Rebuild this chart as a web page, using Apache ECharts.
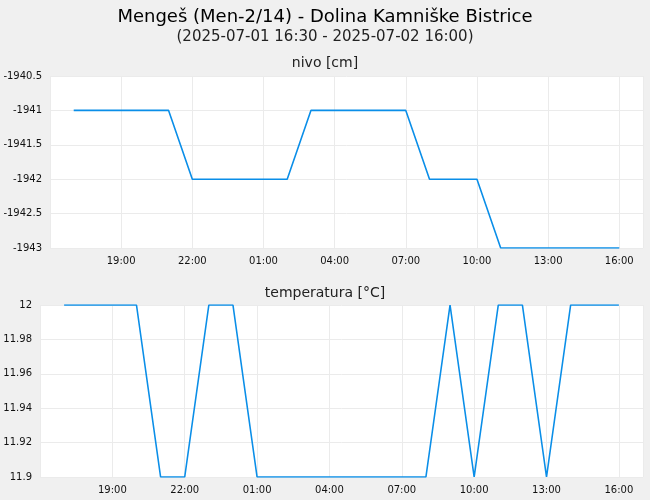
<!DOCTYPE html>
<html><head><meta charset="utf-8">
<script src="https://cdn.jsdelivr.net/npm/echarts@6/dist/echarts.min.js"></script>
<style>html,body{margin:0;padding:0;background:#f0f0f0}#c{width:650px;height:500px}</style>
</head><body><div id="c"></div>
<script>
// hours since 2025-07-01 16:00
const hours = [1,2,3,4,5,6,7,8,9,10,11,12,13,14,15,16,17,18,19,20,21,22,23,24];
const nivo = [-1941,-1941,-1941,-1941,-1941,-1942,-1942,-1942,-1942,-1942,-1941,-1941,-1941,-1941,-1941,-1942,-1942,-1942,-1943,-1943,-1943,-1943,-1943,-1943];
const temp = [12,12,12,12,11.9,11.9,12,12,11.9,11.9,11.9,11.9,11.9,11.9,11.9,11.9,12,11.9,12,12,11.9,12,12,12];
const tickLabels = {3:'19:00',6:'22:00',9:'01:00',12:'04:00',15:'07:00',18:'10:00',21:'13:00',24:'16:00'};

const chart = echarts.init(document.getElementById('c'));
const font = 'DejaVu Sans';
const xAx = i => ({type:'value',gridIndex:i,min:0,max:25,interval:3,showMaxLabel:false,
  axisLine:{show:false},axisTick:{show:false},
  splitLine:{lineStyle:{color:'#ebebeb'}},
  axisLabel:{fontFamily:font,fontSize:10,color:'#111',formatter:v=>tickLabels[v]||''}});
const yAx = (i,min,max,iv) => ({type:'value',gridIndex:i,min,max,interval:iv,
  axisLine:{show:false},axisTick:{show:false},
  splitLine:{lineStyle:{color:'#ebebeb'}},
  axisLabel:{fontFamily:font,fontSize:10,color:'#111',margin:8,formatter:v=>String(+v.toFixed(2))}});
chart.setOption({
  backgroundColor:'#f0f0f0',
  animation:false,
  textStyle:{fontFamily:font},
  title:[
    {text:'Mengeš (Men-2/14) - Dolina Kamniške Bistrice',left:'center',top:3,textStyle:{fontFamily:font,fontSize:18,fontWeight:'normal',color:'#000'}},
    {text:'(2025-07-01 16:30 - 2025-07-02 16:00)',left:'center',top:25,textStyle:{fontFamily:font,fontSize:15,fontWeight:'normal',color:'#222'}},
    {text:'nivo [cm]',left:'center',top:51,textStyle:{fontFamily:font,fontSize:14,fontWeight:'normal',color:'#222'}},
    {text:'temperatura [°C]',left:'center',top:281,textStyle:{fontFamily:font,fontSize:14,fontWeight:'normal',color:'#222'}}
  ],
  grid:[
    {left:50,right:7,top:76,height:172,show:true,backgroundColor:'#fff',borderWidth:0},
    {left:40,right:7,top:305,height:172,show:true,backgroundColor:'#fff',borderWidth:0}
  ],
  xAxis:[xAx(0),xAx(1)],
  yAxis:[yAx(0,-1943,-1940.5,0.5),yAx(1,11.9,12,0.02)],
  series:[
    {type:'line',xAxisIndex:0,yAxisIndex:0,data:hours.map((h,i)=>[h,nivo[i]]),showSymbol:false,lineStyle:{color:'#0a8ee8',width:1.6}},
    {type:'line',xAxisIndex:1,yAxisIndex:1,data:hours.map((h,i)=>[h,temp[i]]),showSymbol:false,lineStyle:{color:'#0a8ee8',width:1.6}}
  ]
});
</script></body></html>
